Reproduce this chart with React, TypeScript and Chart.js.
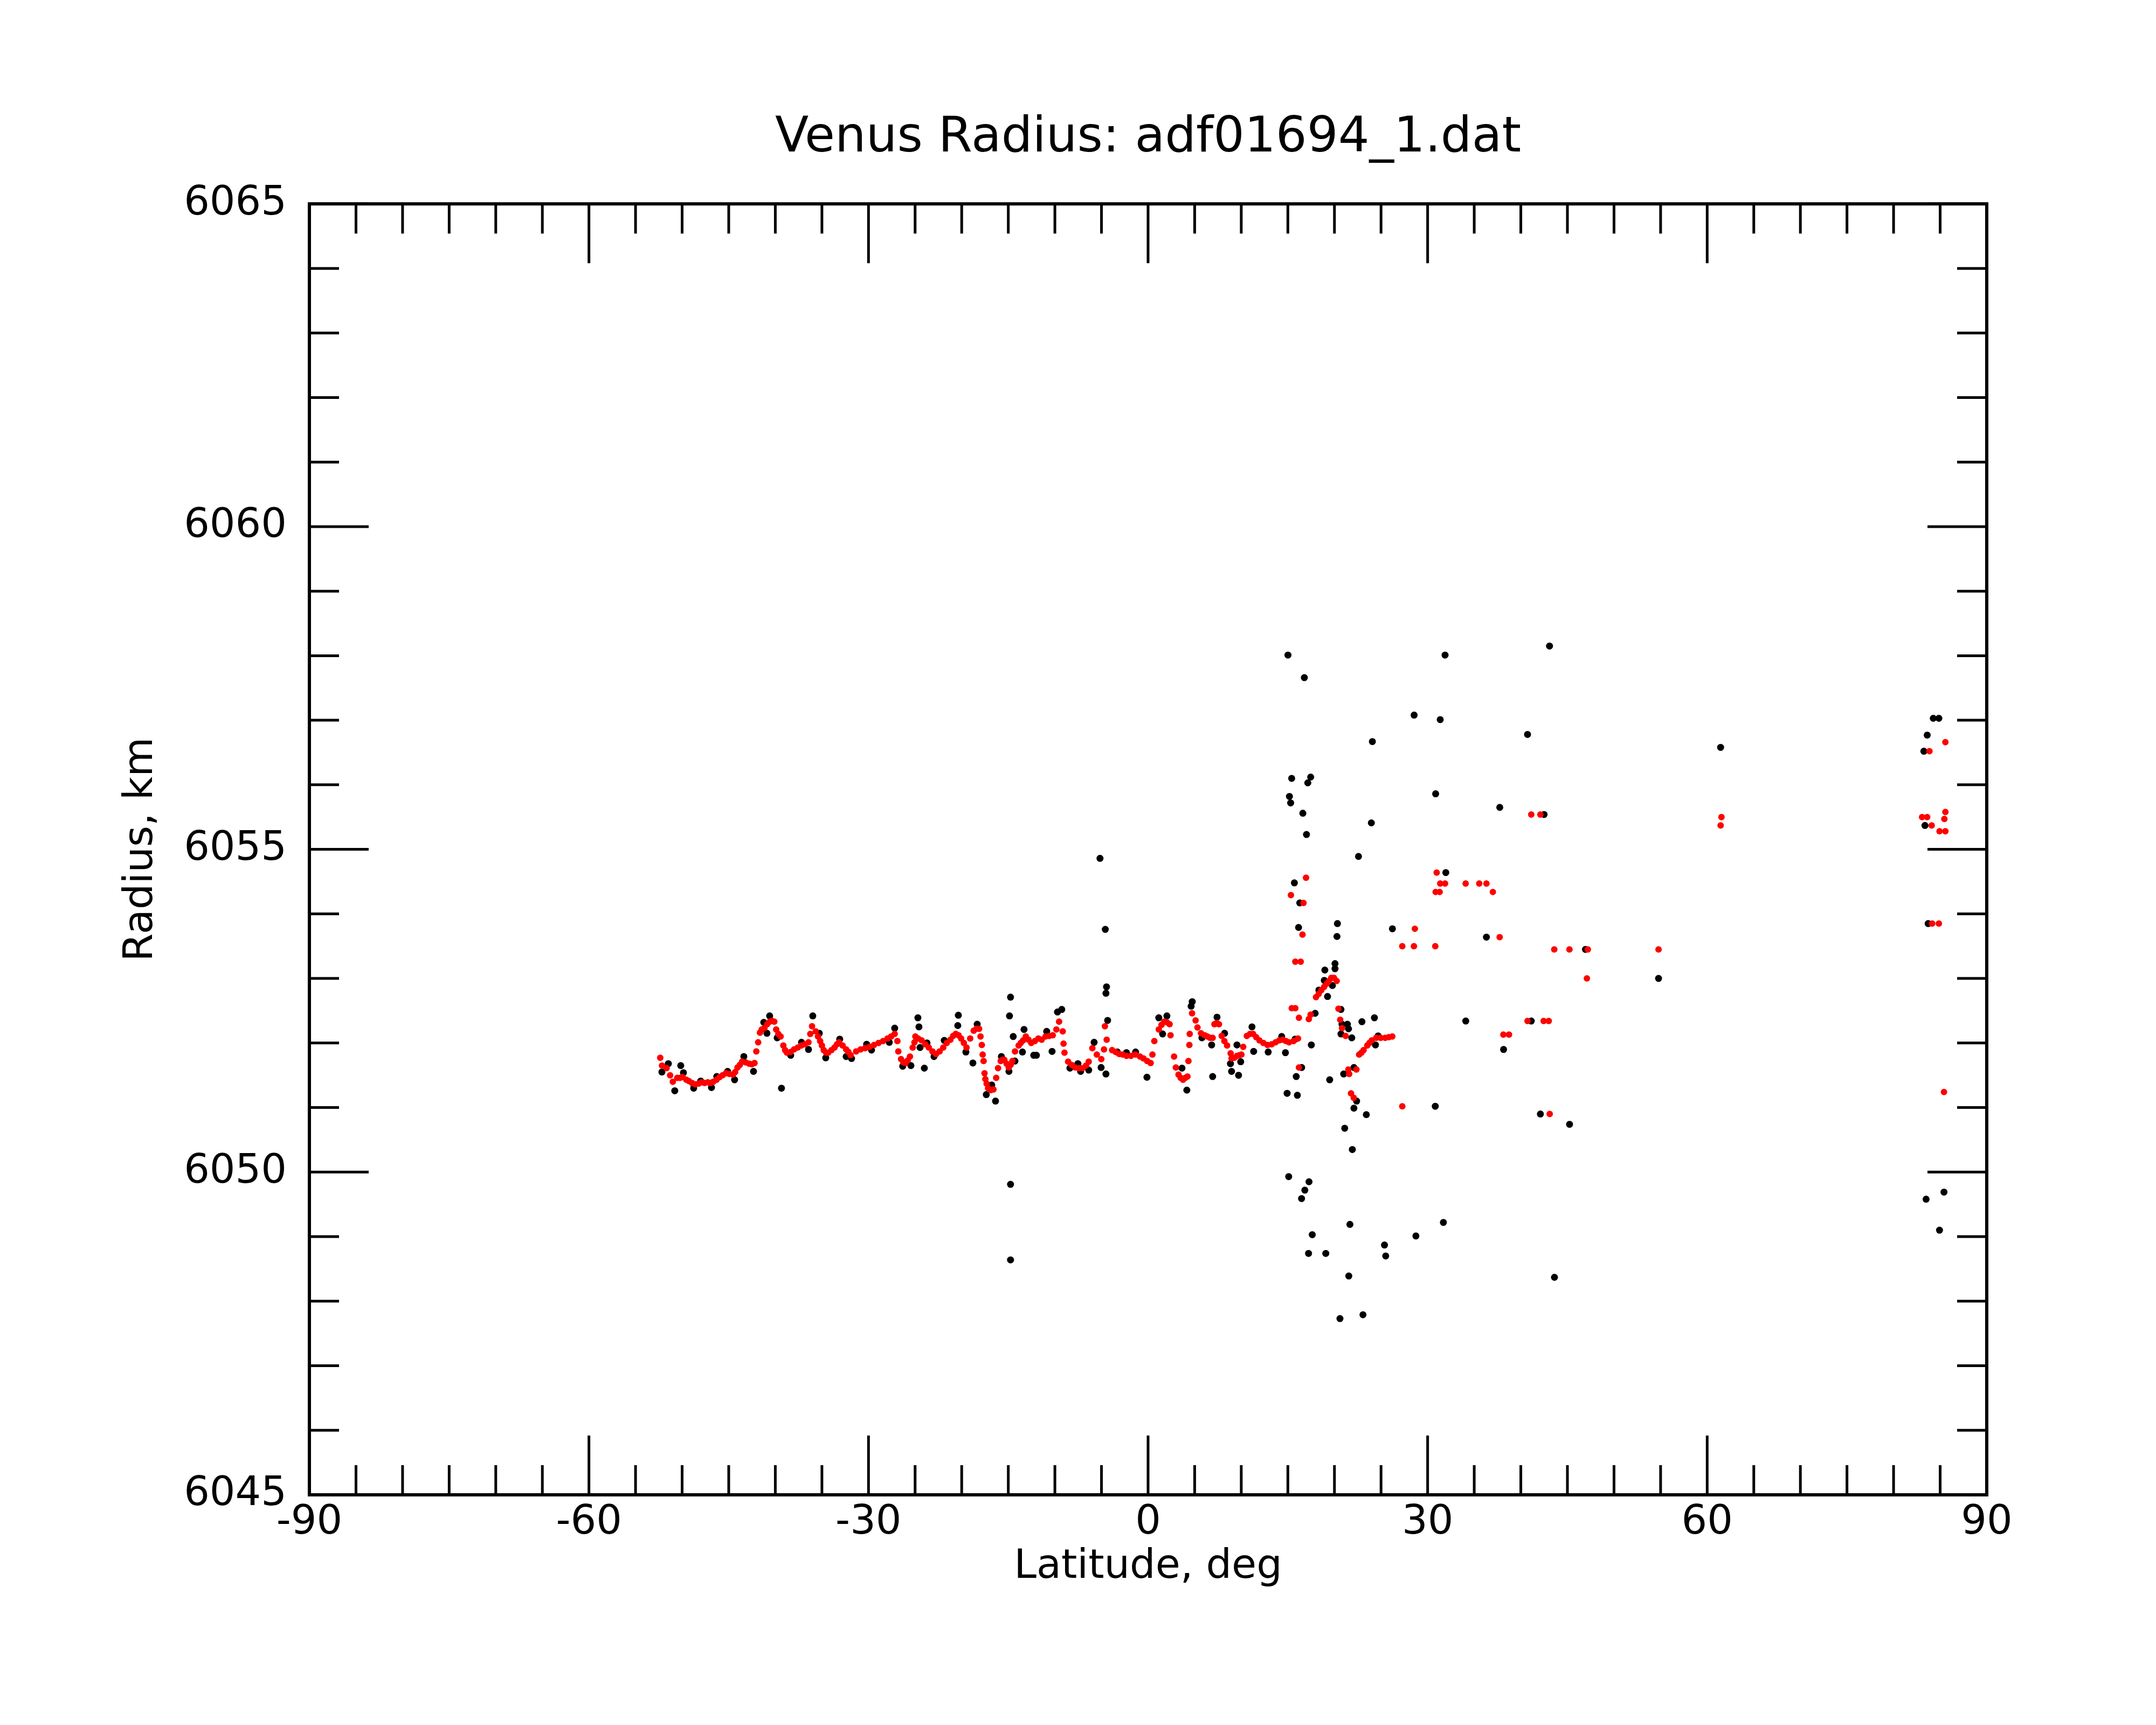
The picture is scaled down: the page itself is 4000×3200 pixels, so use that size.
import React, { useEffect, useRef } from 'react';
import Chart from 'chart.js/auto';

// smoothed radius (red)
const redLat = [
  -52.35, -52.16, -51.67, -51.29, -51.0, -50.52, -49.94, -49.27, -48.59, -47.91,
  -47.24, -46.66, -45.99, -45.31, -44.54, -44.06, -43.57, -42.81, -42.23, -42.04,
  -41.84, -41.65, -41.17, -40.59, -40.11, -39.91, -39.43, -39.14, -38.76, -37.99,
  -37.21, -36.44, -36.25, -36.06, -35.67, -35.19, -34.81, -34.32, -33.65, -33.16,
  -32.4, -31.91, -30.85, -29.89, -28.92, -27.96, -27.19, -26.9, -26.8, -26.51,
  -26.03, -25.55, -25.26, -25.07, -24.97, -24.3, -23.53, -22.75, -21.98, -21.21,
  -20.64, -20.06, -19.48, -19.09, -18.71, -18.13, -17.98, -17.84, -17.75, -17.65,
  -17.55, -17.46, -17.17, -16.59, -16.3, -16.1, -15.81, -15.43, -14.95, -14.56,
  -14.28, -13.89, -13.41, -13.12, -12.54, -11.77, -11.0, -10.23, -9.84, -9.55,
  -9.16, -9.07, -8.97, -8.58, -7.81, -7.04, -6.37, -5.98, -5.5, -5.02,
  -4.63, -4.44, -4.73, -3.86, -3.09, -2.32, -1.35, -0.49, 0.28, 0.47,
  0.67, 1.15, 1.73, 2.31, 2.41, 2.79, 2.98, 3.27, 3.75, 4.23,
  4.33, 4.43, 4.47, 4.72, 5.1, 5.3, 5.68, 6.36, 6.93, 7.12,
  7.61, 7.9, 8.48, 8.86, 8.96, 9.54, 10.02, 10.21, 10.6, 11.27,
  11.95, 12.82, 13.68, 14.45, 15.13, 16.09, 15.42, 15.8, 16.19, 17.44,
  17.25, 16.19, 15.8, 16.38, 16.57, 18.02, 18.6, 19.18, 19.66, 20.24,
  20.43, 20.62, 20.81, 21.2, 21.49, 21.58, 22.36, 21.78, 22.07, 22.65,
  23.13, 23.52, 24.0, 24.48, 25.44, 26.21, 27.28, 27.28, 28.53, 28.63,
  15.33, 16.68, 16.95, 30.82, 30.97, 31.35, 31.87, 34.08, 35.54, 36.31,
  30.86, 31.29, 37.0, 37.73, 38.13, 38.73, 40.72, 42.45, 43.0, 41.12,
  42.1, 43.1, 43.59, 45.22, 47.19, 47.09, 54.78, 61.53, 61.44, 83.06,
  83.61, 84.09, 83.85, 85.56, 85.56, 85.45, 84.93, 85.56, 84.14, 84.86,
  85.41,
  -50.23, -49.55, -48.94, -48.24, -47.59, -46.95, -46.31, -45.66, -44.93, -44.31,
  -43.81, -43.19, -42.52, -41.46, -40.88, -40.34, -39.68, -38.95, -38.37, -37.6,
  -36.83, -35.42, -35.0, -34.55, -33.97, -33.39, -32.78, -32.16,
  -31.33, -30.37, -29.41, -28.44, -27.57, -26.26, -25.8, -24.68, -23.91, -23.14,
  -22.37, -21.6, -20.92, -20.34, -19.77, -18.42, -17.32, -16.87, -15.62, -15.18,
  -14.75, -13.66, -12.83, -12.15,
  -11.42, -10.61, -8.2, -7.43, -6.66, -3.48, -2.71, -1.84, -0.87, -0.1,
  1.44, 2.02, 3.5, 4.0, 6.07, 6.65, 7.36, 8.19,
  9.25, 9.79, 10.94, 11.6, 12.37, 13.26, 14.07, 14.8, 15.61,
  18.31, 18.89, 19.43, 19.95, 22.9, 23.75, 24.96, 25.83,
];
const redRad = [
  6051.77, 6051.65, 6051.61, 6051.5, 6051.4, 6051.46, 6051.47, 6051.41, 6051.36, 6051.39,
  6051.39, 6051.4, 6051.47, 6051.53, 6051.51, 6051.62, 6051.71, 6051.68, 6051.69, 6051.87,
  6052.01, 6052.16, 6052.23, 6052.33, 6052.33, 6052.21, 6052.1, 6051.96, 6051.85, 6051.9,
  6051.96, 6052.01, 6052.14, 6052.26, 6052.18, 6052.03, 6051.89, 6051.85, 6051.93, 6052.01,
  6051.9, 6051.81, 6051.9, 6051.94, 6052.0, 6052.07, 6052.14, 6052.03, 6051.87, 6051.75,
  6051.69, 6051.79, 6051.93, 6052.01, 6052.1, 6052.04, 6051.93, 6051.83, 6051.93, 6052.05,
  6052.14, 6052.07, 6051.93, 6052.07, 6052.19, 6052.22, 6052.1, 6051.97, 6051.82, 6051.72,
  6051.53, 6051.44, 6051.3, 6051.28, 6051.46, 6051.61, 6051.72, 6051.74, 6051.62, 6051.72,
  6051.87, 6051.96, 6052.04, 6052.1, 6052.0, 6052.07, 6052.1, 6052.12, 6052.21, 6052.33,
  6052.18, 6051.99, 6051.85, 6051.71, 6051.62, 6051.61, 6051.71, 6051.92, 6051.82, 6051.75,
  6052.26, 6052.05, 6051.9, 6051.89, 6051.83, 6051.8, 6051.82, 6051.76, 6051.69, 6051.82,
  6052.03, 6052.21, 6052.33, 6052.29, 6052.12, 6051.79, 6051.62, 6051.51, 6051.43, 6051.48,
  6051.72, 6051.97, 6052.14, 6052.46, 6052.35, 6052.24, 6052.15, 6052.1, 6052.08, 6052.29,
  6052.29, 6052.11, 6051.96, 6051.84, 6051.76, 6051.8, 6051.82, 6051.94, 6052.11, 6052.14,
  6052.04, 6051.97, 6052.01, 6052.05, 6052.01, 6052.07, 6052.54, 6052.54, 6052.39, 6052.44,
  6052.37, 6051.62, 6053.26, 6053.26, 6053.68, 6052.71, 6052.82, 6052.92, 6053.01, 6052.96,
  6052.53, 6052.36, 6052.23, 6052.11, 6051.59, 6051.52, 6051.59, 6051.22, 6051.15, 6051.82,
  6051.89, 6051.96, 6052.04, 6052.08, 6052.08, 6052.1, 6051.02, 6053.5, 6053.5, 6053.77,
  6054.29, 6054.17, 6054.56, 6053.5, 6054.64, 6054.47, 6054.47, 6054.47, 6054.47, 6054.47,
  6054.34, 6054.34, 6054.34, 6053.64, 6052.13, 6052.13, 6052.34, 6052.34, 6052.34, 6055.54,
  6055.54, 6050.9, 6053.45, 6053.45, 6053.45, 6053.0, 6053.45, 6055.5, 6055.37, 6055.5,
  6055.5, 6055.37, 6056.52, 6056.66, 6055.58, 6055.47, 6055.28, 6055.28, 6053.85, 6053.85,
  6051.24,
  6051.46, 6051.43, 6051.38, 6051.37, 6051.38, 6051.38, 6051.43, 6051.5, 6051.52, 6051.55,
  6051.66, 6051.7, 6051.67, 6052.21, 6052.29, 6052.34, 6052.14, 6051.89, 6051.86, 6051.93,
  6051.98, 6052.1, 6051.96, 6051.85, 6051.89, 6051.98, 6051.96, 6051.86,
  6051.87, 6051.92, 6051.97, 6052.03, 6052.1, 6051.7, 6051.73, 6052.07, 6051.98, 6051.87,
  6051.87, 6052.0, 6052.11, 6052.12, 6052.0, 6052.22, 6051.37, 6051.27, 6051.74, 6051.68,
  6051.66, 6052.0, 6052.05, 6052.03,
  6052.05, 6052.11, 6051.66, 6051.61, 6051.65, 6051.86, 6051.82, 6051.8, 6051.79, 6051.72,
  6052.28, 6052.32, 6051.46, 6051.46, 6052.12, 6052.08, 6052.31, 6052.03,
  6051.77, 6051.81, 6052.14, 6052.09, 6052.0, 6051.98, 6052.04, 6052.03, 6052.03,
  6052.76, 6052.87, 6052.96, 6053.01, 6051.85, 6052.0, 6052.08, 6052.09,
];

// raw radius (black)
const blackLat = [
  -52.17, -51.48, -50.79, -50.15, -49.86, -48.76, -48.01, -46.85, -46.28, -45.12,
  -44.37, -43.38, -42.34, -41.24, -40.61, -40.9, -39.8, -39.34, -38.35, -37.19,
  -36.44, -35.98, -35.28, -34.59, -33.09, -32.4, -31.82, -30.2, -29.68, -27.77,
  -27.19, -26.33, -25.45, -24.7, -24.59, -24.47, -24.01, -23.72, -22.97, -21.87,
  -20.42, -20.36, -19.55, -18.8, -18.34, -17.36, -16.78, -16.37, -15.74, -14.93,
  -14.87, -14.76, -14.47, -14.29, -13.31, -13.48, -12.27, -14.76, -14.76, -11.98,
  -10.88, -10.3, -9.72, -9.26, -8.39, -7.53, -7.24, -6.37, -5.79, -5.04,
  -4.52, -4.46, -4.52, -4.34, -5.16, -4.59, -3.3, -2.32, -1.34, -0.12,
  1.15, 2.02, 1.56, 3.64, 4.16, 4.74, 4.62, 5.78, 6.82, 6.93,
  7.4, 8.21, 8.84, 8.96, 9.71, 9.94, 9.54, 11.15, 11.33, 12.89,
  14.34, 14.74, 15.78, 15.9, 14.92, 16.02, 16.48, 17.52, 17.93, 20.06,
  20.06, 18.97, 18.91, 18.33, 19.26, 19.78, 19.49, 20.7, 20.81, 21.39,
  21.51, 20.7, 21.86, 20.99, 22.09, 22.38, 22.09, 23.42, 21.1, 22.95,
  24.29, 24.69, 24.4, 15.01, 31.87, 43.08, 16.77, 28.55, 31.35, 40.72,
  24.07, 15.41, 17.45, 17.14, 15.17, 15.3, 30.86, 16.61, 37.74, 42.5,
  23.96, 17.0, 22.58, 31.95, 15.7, 16.28, 16.15, 20.32, 20.27, 26.22,
  36.31, 30.82, 42.1, 45.23, 21.92, 15.09, 17.27, 16.82, 16.47, 21.66,
  31.69, 17.62, 28.74, 25.37, 17.22, 19.07, 25.5, 21.54, 43.61, 20.59,
  23.06, 61.44, 46.94, 54.78, 34.09, 41.12, 38.15, 84.26, 84.86, 83.61,
  83.25, 83.37, 83.71, 83.49, 85.41, 84.93,
];
const blackRad = [
  6051.55, 6051.68, 6051.26, 6051.65, 6051.54, 6051.3, 6051.41, 6051.31, 6051.48, 6051.56,
  6051.43, 6051.79, 6051.56, 6052.32, 6052.42, 6052.15, 6052.08, 6051.3, 6051.81, 6052.01,
  6051.9, 6052.42, 6052.15, 6051.77, 6052.06, 6051.79, 6051.76, 6051.98, 6051.89, 6052.01,
  6052.23, 6051.64, 6051.65, 6052.39, 6052.25, 6051.93, 6051.61, 6052.0, 6051.79, 6052.04,
  6052.27, 6052.43, 6051.86, 6051.69, 6052.29, 6051.2, 6051.35, 6051.1, 6051.79, 6051.56,
  6052.42, 6052.71, 6052.1, 6051.72, 6052.21, 6051.86, 6051.81, 6049.81, 6048.64, 6051.81,
  6052.18, 6051.87, 6052.48, 6052.52, 6051.61, 6051.68, 6051.56, 6051.58, 6052.01, 6051.62,
  6051.52, 6052.87, 6052.77, 6052.35, 6054.86, 6053.76, 6051.86, 6051.85, 6051.86, 6051.47,
  6052.39, 6052.42, 6052.14, 6051.61, 6051.27, 6052.64, 6052.57, 6052.08, 6051.97, 6051.48,
  6052.4, 6052.15, 6051.68, 6051.56, 6051.5, 6051.71, 6051.97, 6052.25, 6051.87, 6051.86,
  6052.1, 6051.85, 6052.06, 6051.48, 6051.22, 6051.19, 6051.62, 6051.97, 6052.46, 6053.23,
  6053.15, 6053.13, 6052.97, 6052.82, 6052.72, 6052.89, 6051.43, 6052.52, 6052.29, 6052.29,
  6052.22, 6052.14, 6052.08, 6051.52, 6051.62, 6051.1, 6050.99, 6050.89, 6050.68, 6052.33,
  6052.39, 6052.11, 6051.97, 6058.01, 6058.01, 6058.15, 6057.66, 6057.08, 6057.01, 6056.78,
  6056.67, 6056.1, 6056.12, 6056.03, 6055.82, 6055.72, 6055.86, 6055.56, 6055.65, 6055.54,
  6055.41, 6055.23, 6054.89, 6054.64, 6054.48, 6054.17, 6053.79, 6053.85, 6053.65, 6053.77,
  6053.64, 6051.02, 6050.9, 6050.74, 6050.35, 6049.93, 6049.85, 6049.72, 6049.59, 6049.19,
  6049.22, 6049.03, 6049.01, 6048.87, 6048.74, 6048.74, 6048.7, 6048.39, 6048.37, 6047.73,
  6047.79, 6056.58, 6053.45, 6053.0, 6052.34, 6052.34, 6051.9, 6057.03, 6057.03, 6056.77,
  6056.52, 6055.37, 6053.85, 6049.58, 6049.69, 6049.1,
];

const latTicks = [-90, -60, -30, 0, 30, 60, 90];
const radTicks = [6045, 6050, 6055, 6060, 6065];
const latMinorStep = 5;
const radMinorStep = 1;

const FONT = 'DejaVu Sans';

const toPoints = (xs: number[], ys: number[]) => xs.map((x, i) => ({ x, y: ys[i] }));

// ticks point inward on all four sides, like the original plot
const frameTicks = {
  id: 'frameTicks',
  afterDatasetsDraw(chart: any) {
    const { ctx, chartArea, scales } = chart;
    const { left, right, top, bottom } = chartArea;
    const x = scales.x;
    const y = scales.y;
    ctx.save();
    ctx.strokeStyle = '#000';
    ctx.lineWidth = 5;
    ctx.beginPath();
    for (let v = x.min; v <= x.max; v += latMinorStep) {
      const px = x.getPixelForValue(v);
      const len = latTicks.includes(v) ? 110 : 55;
      ctx.moveTo(px, bottom);
      ctx.lineTo(px, bottom - len);
      ctx.moveTo(px, top);
      ctx.lineTo(px, top + len);
    }
    for (let v = y.min; v <= y.max; v += radMinorStep) {
      const py = y.getPixelForValue(v);
      const len = radTicks.includes(v) ? 110 : 55;
      ctx.moveTo(left, py);
      ctx.lineTo(left + len, py);
      ctx.moveTo(right, py);
      ctx.lineTo(right - len, py);
    }
    ctx.stroke();
    ctx.lineWidth = 6;
    ctx.strokeRect(left, top, right - left, bottom - top);
    ctx.restore();
  },
};

const RadiusChart: React.FC = () => {
  const canvasRef = useRef<HTMLCanvasElement>(null);

  useEffect(() => {
    document.body.style.margin = '0';
    const canvas = canvasRef.current;
    let chart: Chart | null = null;

    if (canvas) {
      chart = new Chart(canvas, {
        type: 'scatter',
        data: {
          datasets: [
            {
              label: 'smoothed',
              data: toPoints(redLat, redRad),
              backgroundColor: '#ff0000',
              borderWidth: 0,
              pointRadius: 6,
              yAxisID: 'y',
              order: 0,
            },
            {
              label: 'raw',
              data: toPoints(blackLat, blackRad),
              backgroundColor: '#000000',
              borderWidth: 0,
              pointRadius: 6.5,
              yAxisID: 'y',
              order: 1,
            },
          ],
        },
        options: {
          responsive: false,
          animation: false,
          devicePixelRatio: 1,
          // 260 left + 314 y axis, 314 empty right axis: plot 574..3686, title centred on it
          layout: { padding: { left: 260, right: 0, top: 0, bottom: 0 } },
          plugins: {
            legend: { display: false },
            tooltip: { enabled: false },
            title: {
              display: true,
              text: 'Venus Radius: adf01694_1.dat',
              color: '#000',
              font: { family: FONT, size: 91, weight: 'normal', lineHeight: 1.2 },
              padding: { top: 203, bottom: 66 },
            },
          },
          scales: {
            x: {
              type: 'linear',
              min: -90,
              max: 90,
              grid: { display: false, drawTicks: false },
              border: { display: false },
              ticks: {
                padding: 8,
                color: '#000',
                maxRotation: 0,
                autoSkip: false,
                font: { family: FONT, size: 75 },
                callback: (v: any) => String(v),
              },
              afterBuildTicks: (s: any) => {
                s.ticks = latTicks.map((value) => ({ value }));
              },
              afterFit: (s: any) => {
                s.height = 427;
              },
              title: {
                display: true,
                text: 'Latitude, deg',
                color: '#000',
                font: { family: FONT, size: 75, lineHeight: 1.2 },
                padding: { top: 0, bottom: 247 },
              },
            },
            y: {
              type: 'linear',
              position: 'left',
              min: 6045,
              max: 6065,
              grid: { display: false, drawTicks: false },
              border: { display: false },
              ticks: {
                padding: 42,
                color: '#000',
                font: { family: FONT, size: 75 },
                callback: (v: any) => String(v),
              },
              afterBuildTicks: (s: any) => {
                s.ticks = radTicks.map((value) => ({ value }));
              },
              afterFit: (s: any) => {
                s.width = 314;
              },
              title: {
                display: true,
                text: 'Radius, km',
                color: '#000',
                font: { family: FONT, size: 75, lineHeight: 1.2 },
                padding: { top: -42, bottom: 0 },
              },
            },
            yRight: {
              type: 'linear',
              position: 'right',
              min: 6045,
              max: 6065,
              grid: { display: false, drawTicks: false },
              border: { display: false },
              ticks: { display: false },
              afterFit: (s: any) => {
                s.width = 314;
              },
            },
          },
        },
        plugins: [frameTicks],
      });
    }

    return () => {
      if (chart) {
        chart.destroy();
      }
    };
  }, []);

  return (
    <div style={{ width: 4000, height: 3200, background: '#fff' }}>
      <canvas ref={canvasRef} width={4000} height={3200} style={{ display: 'block' }}></canvas>
    </div>
  );
};

export default function App() {
  return <RadiusChart />;
}
